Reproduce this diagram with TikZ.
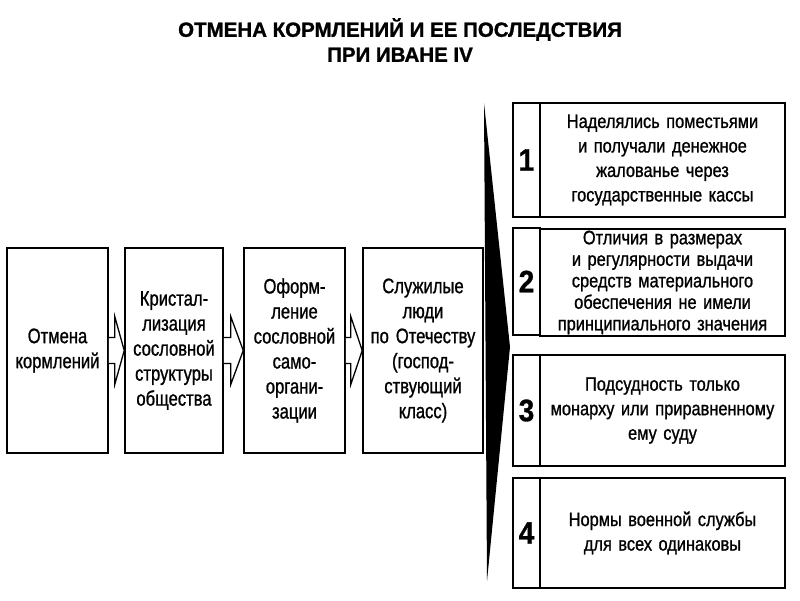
\documentclass[tikz,border=0pt]{standalone}
\usepackage{fontspec}
\setmainfont{Liberation Sans}
\newfontfamily\narrowfont[FakeStretch=0.79,FakeBold=1,WordSpace=0.8]{Liberation Sans}
\newfontfamily\narrowfontb[FakeStretch=0.84,FakeBold=1,WordSpace=0.75]{Liberation Sans}
\newfontfamily\titlefont[FakeBold=1.2]{Liberation Sans Bold}
\newfontfamily\numfont[FakeStretch=0.9,FakeBold=1]{Liberation Sans Bold}
\usetikzlibrary{calc}
\begin{document}
\begin{tikzpicture}[x=1pt,y=-1pt,
  lbox/.style={draw, line width=1.5pt, rectangle, inner sep=0pt, align=center,
    minimum height=205pt, font=\narrowfont\fontsize{21}{25}\selectfont},
  numbox/.style={draw, line width=1.5pt, rectangle, inner sep=0pt, minimum width=27pt,
    font=\numfont\fontsize{31}{31}\selectfont},
  tbox/.style={draw, line width=1.5pt, rectangle, inner sep=0pt, minimum width=245pt,
    text width=240pt, align=center, font=\narrowfontb\fontsize{19.5}{24.5}\selectfont},
  conn/.style={draw, line width=1.3pt, line join=miter, fill=white},
  titlestyle/.style={align=center, font=\titlefont\fontsize{20.5}{25}\selectfont}
]
\fill[white] (0,0) rectangle (800,600);
\useasboundingbox (0,0) rectangle (800,600);

\node[titlestyle] (title) at (400,40) {ОТМЕНА КОРМЛЕНИЙ И ЕЕ ПОСЛЕДСТВИЯ\\ПРИ ИВАНЕ IV};

% left chain
\node[lbox, minimum width=101pt, text width=97pt] (b1) at (57.5,350.5) {Отмена\\кормлений};
\node[lbox, minimum width=98pt, text width=96pt] (b2) at (174,350.5) {Кристал-\\лизация\\сословной\\структуры\\общества};
\node[lbox, minimum width=101pt, text width=97pt] (b3) at (294.5,350.5) {Оформ-\\ление\\сословной\\само-\\органи-\\зации};
\node[lbox, minimum width=120pt, text width=116pt] (b4) at (423,350.5) {Служилые\\люди\\по Отечеству\\(господ-\\ствующий\\класс)};

% open block arrows between the boxes
\draw[conn] ($(b1.east)+(0,-13)$) -- ($(b1.east)+(6,-13)$) -- ($(b1.east)+(6,-34)$) -- (b2.west)
  -- ($(b1.east)+(6,34)$) -- ($(b1.east)+(6,13)$) -- ($(b1.east)+(0,13)$);
\draw[conn] ($(b2.east)+(0,-13)$) -- ($(b2.east)+(7,-13)$) -- ($(b2.east)+(7,-34)$) -- (b3.west)
  -- ($(b2.east)+(7,34)$) -- ($(b2.east)+(7,13)$) -- ($(b2.east)+(0,13)$);
\draw[conn] ($(b3.east)+(0,-13)$) -- ($(b3.east)+(5,-13)$) -- ($(b3.east)+(5,-34)$) -- (b4.west)
  -- ($(b3.east)+(5,34)$) -- ($(b3.east)+(5,13)$) -- ($(b3.east)+(0,13)$);

% black wedge
\fill[black] (484,103) -- (510,347) -- (487,581) -- cycle;

% right column
\node[numbox, minimum height=114pt] (n1) at (526.5,160) {1};
\node[tbox, minimum height=114pt] (t1) at (662.5,160) {Наделялись поместьями\\и получали денежное\\жалованье через\\государственные кассы};

\node[numbox, minimum height=107pt] (n2) at (526.5,281.5) {2};
\node[tbox, minimum height=107pt, font=\narrowfontb\fontsize{19.5}{21.5}\selectfont] (t2) at (662.5,282.5) {Отличия в размерах\\и регулярности выдачи\\средств материального\\обеспечения не имели\\принципиального значения};

\node[numbox, minimum height=111pt] (n3) at (526.5,410.5) {3};
\node[tbox, minimum height=111pt] (t3) at (662.5,410.5) {Подсудность только\\монарху или приравненному\\ему суду};

\node[numbox, minimum height=110pt] (n4) at (526.5,533) {4};
\node[tbox, minimum height=110pt] (t4) at (662.5,533) {Нормы военной службы\\для всех одинаковы};
\end{tikzpicture}
\end{document}
